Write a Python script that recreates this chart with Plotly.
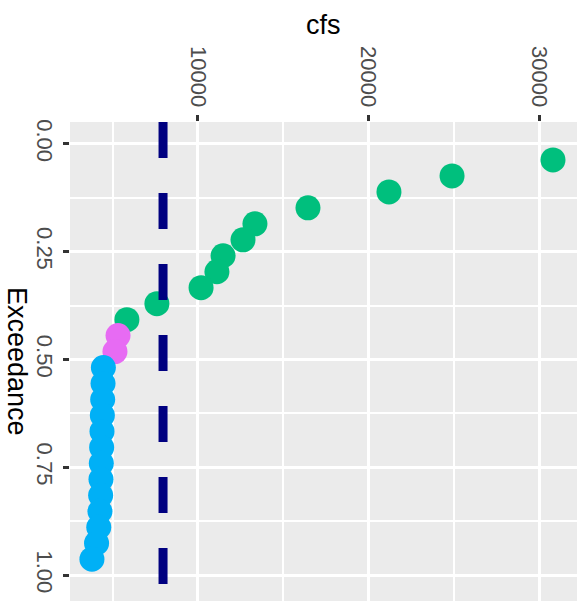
import plotly.graph_objects as go

# Data (ranked flows, Weibull exceedance m/(n+1))
cfs_values = [30820, 24900, 21200, 16450, 13340, 12640, 11470, 11110, 10180,
              7590, 5830, 5310, 5130,
              4450, 4430, 4410, 4390, 4370, 4350, 4330, 4310, 4290, 4250,
              4180, 4050, 3780]
groups = ["high"] * 11 + ["mid"] * 2 + ["low"] * 13
n = len(cfs_values)
exceedance = [(i + 1) / (n + 1) for i in range(n)]
threshold_cfs = 7950

group_colors = {"high": "#00BF7D", "mid": "#E76BF3", "low": "#00B0F6"}

x_ticks = [10000, 20000, 30000]
y_ticks = [0.00, 0.25, 0.50, 0.75, 1.00]

fig = go.Figure()
for g in ["high", "mid", "low"]:
    xs = [v for v, gg in zip(cfs_values, groups) if gg == g]
    ys = [e for e, gg in zip(exceedance, groups) if gg == g]
    fig.add_trace(go.Scatter(
        x=xs, y=ys, mode="markers",
        marker=dict(size=25, color=group_colors[g], line=dict(width=0)),
        showlegend=False, hoverinfo="skip"))

fig.add_shape(type="line", xref="x", yref="paper",
              x0=threshold_cfs, x1=threshold_cfs, y0=1, y1=0,
              line=dict(color="#000080", width=9, dash="36px,35px"),
              layer="above")

font_tick = dict(family="Liberation Sans, Arial, sans-serif", size=22, color="#4D4D4D")

fig.update_layout(
    width=584, height=601,
    margin=dict(l=70, r=7, t=122, b=0),
    paper_bgcolor="white", plot_bgcolor="#EBEBEB",
    xaxis=dict(
        side="top", range=[2493, 32229], tickvals=x_ticks, tickformat="d",
        tickangle=90, tickfont=font_tick,
        ticks="outside", ticklen=6, tickwidth=3, tickcolor="#333333",
        showgrid=True, gridcolor="white", gridwidth=3, zeroline=False,
        showline=False,
        minor=dict(dtick=5000, tick0=0, showgrid=True, gridcolor="white", gridwidth=1.5, ticks=""),
    ),
    yaxis=dict(
        range=[1.060, -0.051], tickvals=y_ticks, tickformat=".2f",
        tickangle=90, tickfont=font_tick,
        ticks="outside", ticklen=6, tickwidth=3, tickcolor="#333333",
        showgrid=True, gridcolor="white", gridwidth=3, zeroline=False,
        showline=False,
        minor=dict(dtick=0.125, tick0=0, showgrid=True, gridcolor="white", gridwidth=1.5, ticks=""),
    ),
    annotations=[
        dict(text="cfs", xref="paper", yref="paper", x=(323 - 70) / 507, y=1,
             yshift=122 - 25, xanchor="center", yanchor="middle", showarrow=False,
             font=dict(family="Liberation Sans, Arial, sans-serif", size=27, color="black")),
        dict(text="Exceedance", xref="paper", yref="paper", x=0, xshift=17 - 70,
             y=1 - (361 - 122) / 479, xanchor="center", yanchor="middle",
             textangle=90, showarrow=False,
             font=dict(family="Liberation Sans, Arial, sans-serif", size=27, color="black")),
    ],
)

fig.write_html("out.html", config={"displayModeBar": False},
               post_script="document.body.style.margin='0';")
